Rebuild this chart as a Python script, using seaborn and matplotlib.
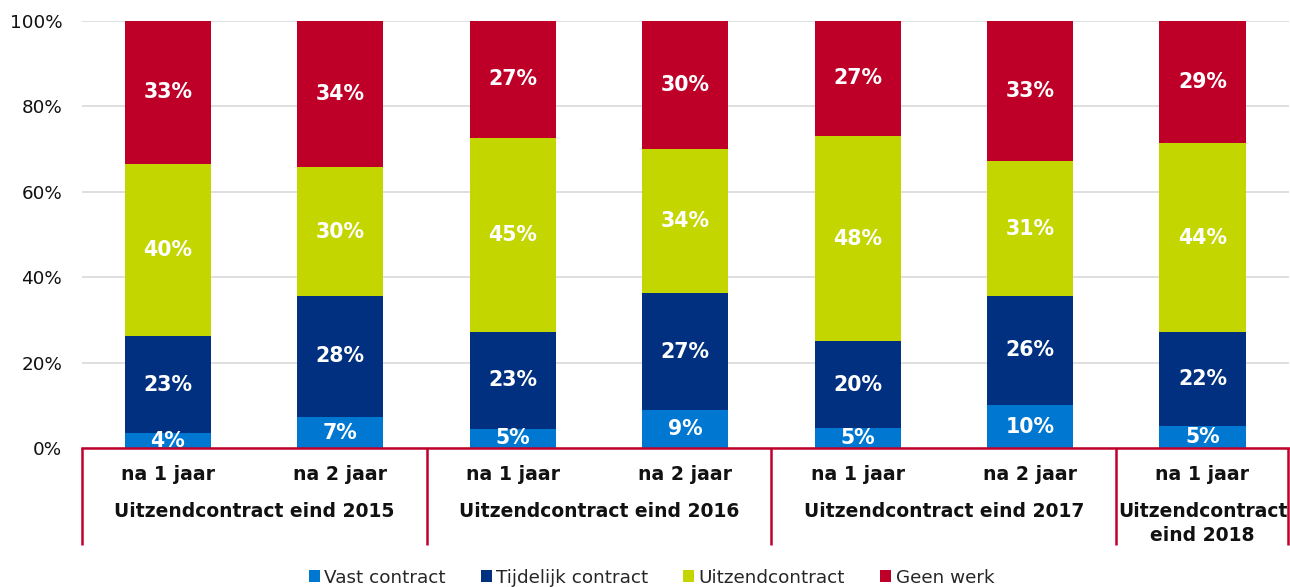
import numpy as np
import pandas as pd
import matplotlib
matplotlib.use("Agg")
import matplotlib.pyplot as plt
import matplotlib.transforms as mtransforms
from matplotlib.patches import Patch
import seaborn as sns

# Share of temporary agency workers by labour-market position (%)
groups = ["Uitzendcontract eind 2015", "Uitzendcontract eind 2016",
          "Uitzendcontract eind 2017", "Uitzendcontract\neind 2018"]
periods = ["na 1 jaar", "na 2 jaar", "na 1 jaar", "na 2 jaar",
           "na 1 jaar", "na 2 jaar", "na 1 jaar"]

series = ["Vast contract", "Tijdelijk contract", "Uitzendcontract", "Geen werk"]
vast = [3.6, 7.3, 4.6, 8.9, 4.7, 10.1, 5.3]
tijdelijk = [22.6, 28.4, 22.6, 27.4, 20.4, 25.6, 21.8]
uitzend = [40.4, 30.0, 45.4, 33.7, 47.9, 31.4, 44.2]
geen_werk = [33.4, 34.3, 27.4, 30.0, 27.0, 32.9, 28.7]

colors = ["#0078D2", "#00307F", "#C4D600", "#BE0029"]
red_line = "#C0002B"

sns.set_theme(style="white")
plt.rcParams["font.family"] = ["DejaVu Sans"]

values = np.array([vast, tijdelijk, uitzend, geen_werk])
cum = values.cumsum(axis=0)
keys = [f"k{i}" for i in range(len(periods))]

fig = plt.figure(figsize=(12.9, 5.87), dpi=100)
ax = fig.add_axes([0.0633, 0.2363, 0.9357, 0.7284])

# stacked bars: draw cumulative totals from the top segment downwards
for s in range(len(series) - 1, -1, -1):
    df = pd.DataFrame({"kolom": keys, "waarde": cum[s]})
    sns.barplot(data=df, x="kolom", y="waarde", color=colors[s], width=0.5,
                saturation=1, ax=ax, zorder=2, linewidth=0)

# value labels centred in each segment
for s in range(len(series)):
    for i in range(len(periods)):
        v = values[s, i]
        ax.text(i, cum[s, i] - v / 2, f"{v:.0f}%", ha="center", va="center",
                color="white", fontsize=14.8, fontweight="bold", zorder=3,
                clip_on=True)

ax.set_xlim(-0.5, len(periods) - 0.5)
ax.set_ylim(0, 100)
ax.set_yticks(np.arange(0, 101, 20))
ax.set_yticklabels([f"{t}%" for t in range(0, 101, 20)], fontsize=13.2,
                   color="#111111")
ax.yaxis.grid(True, color="#D9D9D9", linewidth=1.2, zorder=0)
ax.set_axisbelow(True)
ax.tick_params(axis="y", length=0, pad=14)
ax.tick_params(axis="x", length=0, labelbottom=False)
ax.set_xlabel("")
ax.set_ylabel("")
for side in ["left", "right", "top"]:
    ax.spines[side].set_visible(False)
ax.spines["bottom"].set_color(red_line)
ax.spines["bottom"].set_linewidth(1.8)
ax.spines["bottom"].set_zorder(4)

trans = mtransforms.blended_transform_factory(ax.transData, ax.transAxes)

# two-level category axis
for i, p in enumerate(periods):
    ax.text(i, -0.062, p, transform=trans, ha="center", va="center",
            fontsize=13.6, fontweight="bold", color="#111111", clip_on=False)

bounds = [-0.5, 1.5, 3.5, 5.5, 6.5]
for g, name in enumerate(groups):
    xc = (bounds[g] + bounds[g + 1]) / 2
    ax.text(xc, -0.126, name, transform=trans, ha="center", va="top",
            fontsize=13.5, fontweight="bold", color="#111111",
            linespacing=1.3, clip_on=False)
for b in bounds:
    xb = min(b, len(periods) - 0.5 - 0.004)
    ax.plot([xb, xb], [0, -0.226], transform=trans, color=red_line,
            linewidth=1.8, clip_on=False, solid_capstyle="butt")

handles = [Patch(facecolor=c, edgecolor="none", label=l)
           for c, l in zip(colors, series)]
fig.legend(handles=handles, loc="center", bbox_to_anchor=(0.505, 0.016),
           ncol=4, frameon=False, fontsize=13.2, handlelength=0.6,
           handleheight=0.6, handletextpad=0.25, columnspacing=1.9)

fig.savefig("out.png", dpi=100)
